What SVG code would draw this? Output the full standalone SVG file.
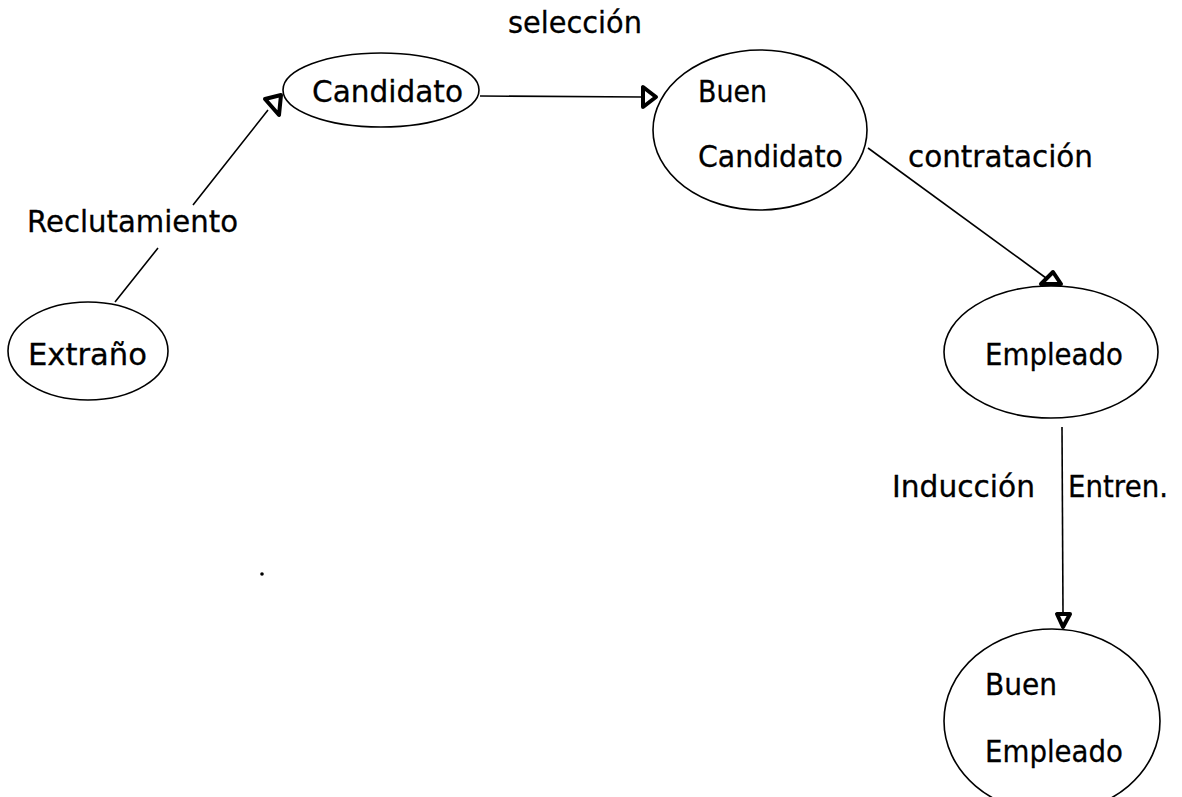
<svg xmlns="http://www.w3.org/2000/svg" width="1182" height="797" viewBox="0 0 1182 797">
<style>
.node{fill:#fff;stroke:#000;stroke-width:1.6}
.lbl{font-family:"DejaVu Sans","Noto Sans",sans-serif;font-size:30px;fill:#000;stroke:#000;stroke-width:0.3}
.edge{fill:none;stroke:#000;stroke-width:1.6}
.head{fill:#fff;stroke:#000;stroke-width:4;stroke-linejoin:round}
</style>
<rect width="1182" height="797" fill="#fff"/>
<g id="connectors">
<path class="edge" d="M115,302 L158,248 M193,205 L268,110"/>
<polygon class="head" points="265,99 279,115 281,95"/>
<path class="edge" d="M480,96 L642,97"/>
<polygon class="head" points="643,87 643,107 656,97"/>
<path class="edge" d="M868,148 L1046,278"/>
<polygon class="head" points="1041,284 1061,284 1053,272"/>
<path class="edge" d="M1062,427 L1063,613"/>
<polygon class="head" points="1057,614 1070,614 1063,627"/>
<text class="lbl" x="508" y="33" textLength="134" lengthAdjust="spacingAndGlyphs">selección</text>
<text class="lbl" x="908" y="167" textLength="185" lengthAdjust="spacingAndGlyphs">contratación</text>
<text class="lbl" x="27" y="232" textLength="211" lengthAdjust="spacingAndGlyphs">Reclutamiento</text>
<text class="lbl" x="892" y="497" textLength="143" lengthAdjust="spacingAndGlyphs">Inducción</text>
<text class="lbl" x="1068" y="497" textLength="100" lengthAdjust="spacingAndGlyphs">Entren.</text>
</g>
<g id="candidato">
<ellipse class="node" cx="381" cy="90" rx="98" ry="37"/>
<text class="lbl" x="312" y="102" textLength="151" lengthAdjust="spacingAndGlyphs">Candidato</text>
</g>
<g id="buen-candidato">
<ellipse class="node" cx="760" cy="130" rx="107" ry="80"/>
<text class="lbl" x="698" y="102" textLength="69" lengthAdjust="spacingAndGlyphs">Buen</text>
<text class="lbl" x="698" y="167" textLength="145" lengthAdjust="spacingAndGlyphs">Candidato</text>
</g>
<g id="extrano">
<ellipse class="node" cx="88" cy="351" rx="80" ry="49"/>
<text class="lbl" x="28" y="365" textLength="119" lengthAdjust="spacingAndGlyphs">Extraño</text>
</g>
<g id="empleado">
<ellipse class="node" cx="1051" cy="352" rx="107" ry="66"/>
<text class="lbl" x="985" y="365" textLength="138" lengthAdjust="spacingAndGlyphs">Empleado</text>
</g>
<g id="buen-empleado">
<ellipse class="node" cx="1052" cy="721" rx="108" ry="92"/>
<text class="lbl" x="985" y="695" textLength="72" lengthAdjust="spacingAndGlyphs">Buen</text>
<text class="lbl" x="985" y="762" textLength="138" lengthAdjust="spacingAndGlyphs">Empleado</text>
</g>
<circle cx="262" cy="574" r="1.8" fill="#000"/>
</svg>
